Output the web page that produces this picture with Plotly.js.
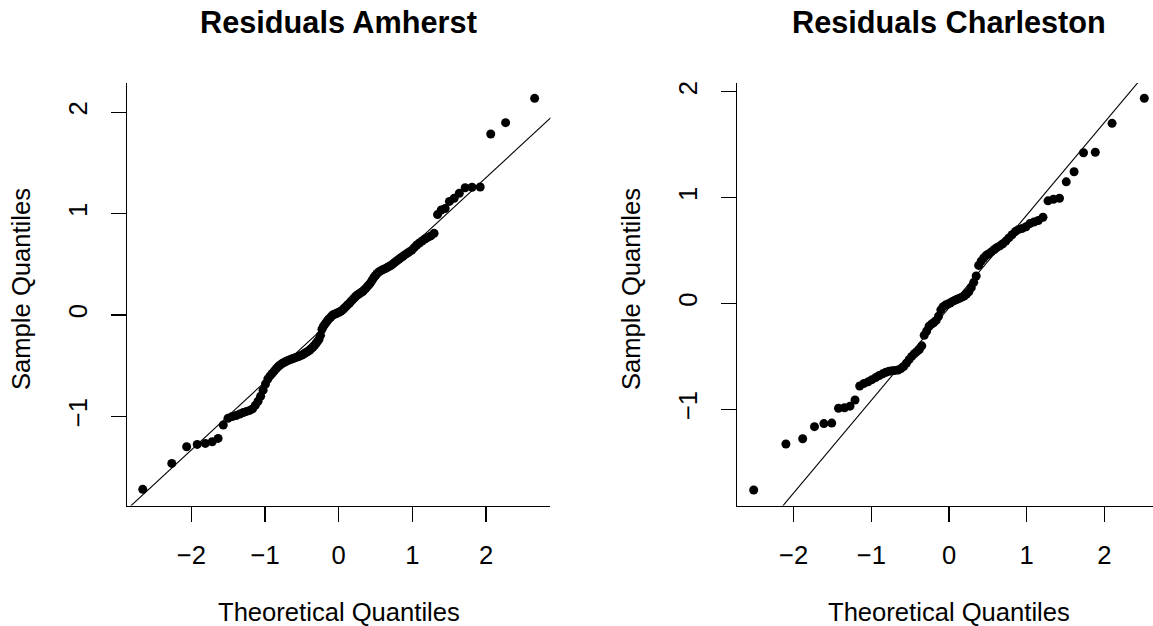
<!DOCTYPE html>
<html><head><meta charset="utf-8">
<script src="https://cdn.plot.ly/plotly-3.0.1.min.js"></script>
<style>html,body{margin:0;padding:0;overflow:hidden;background:#fff}#chart{width:1153px;height:626px}</style>
</head>
<body>
<div id="chart"></div>
<script>
// ---- Data (normal QQ plots of residuals) ----
var amherstTheoretical = [
 -2.660,-2.266,-2.064,-1.921,-1.810,-1.717,-1.637,-1.567,-1.503,-1.445,-1.392,-1.342,-1.295,-1.251,-1.209,-1.170,
 -1.132,-1.095,-1.060,-1.026,-0.994,-0.962,-0.932,-0.902,-0.873,-0.844,-0.817,-0.790,-0.763,-0.737,-0.712,-0.687,
 -0.662,-0.638,-0.614,-0.591,-0.568,-0.545,-0.522,-0.500,-0.478,-0.456,-0.434,-0.413,-0.392,-0.371,-0.350,-0.329,
 -0.308,-0.288,-0.268,-0.247,-0.227,-0.207,-0.187,-0.167,-0.147,-0.128,-0.108,-0.088,-0.069,-0.049,-0.029,-0.010,
 0.010,0.029,0.049,0.069,0.088,0.108,0.128,0.147,0.167,0.187,0.207,0.227,0.247,0.268,0.288,0.308,
 0.329,0.350,0.371,0.392,0.413,0.434,0.456,0.478,0.500,0.522,0.545,0.568,0.591,0.614,0.638,0.662,
 0.687,0.712,0.737,0.763,0.790,0.817,0.844,0.873,0.902,0.932,0.962,0.994,1.026,1.060,1.095,1.132,
 1.170,1.209,1.251,1.295,1.342,1.392,1.445,1.503,1.567,1.637,1.717,1.810,1.921,2.064,2.266,2.660
];
var amherstSample = [
 -1.718,-1.462,-1.298,-1.275,-1.265,-1.249,-1.216,-1.084,-1.018,-1.000,-0.990,-0.975,-0.960,-0.950,-0.940,-0.925,
 -0.890,-0.850,-0.800,-0.740,-0.680,-0.630,-0.600,-0.575,-0.550,-0.525,-0.505,-0.490,-0.475,-0.465,-0.455,-0.447,
 -0.440,-0.433,-0.427,-0.420,-0.415,-0.408,-0.400,-0.395,-0.385,-0.375,-0.365,-0.355,-0.345,-0.330,-0.315,-0.300,
 -0.280,-0.260,-0.240,-0.200,-0.140,-0.110,-0.090,-0.070,-0.050,-0.035,-0.020,-0.005,0.005,0.010,0.017,0.022,
 0.030,0.038,0.048,0.062,0.076,0.090,0.105,0.118,0.135,0.150,0.165,0.180,0.195,0.205,0.215,0.225,
 0.235,0.250,0.265,0.285,0.300,0.320,0.345,0.370,0.390,0.410,0.425,0.435,0.445,0.452,0.460,0.470,
 0.480,0.490,0.505,0.520,0.535,0.550,0.565,0.580,0.595,0.610,0.625,0.640,0.665,0.690,0.710,0.730,
 0.750,0.765,0.780,0.805,0.990,1.035,1.050,1.120,1.150,1.200,1.255,1.260,1.262,1.784,1.896,2.136
];
var charlestonTheoretical = [
 -2.515,-2.100,-1.884,-1.732,-1.611,-1.510,-1.423,-1.345,-1.275,-1.210,-1.150,-1.094,-1.042,-0.992,
 -0.944,-0.898,-0.854,-0.812,-0.771,-0.732,-0.693,-0.656,-0.619,-0.584,-0.549,-0.514,-0.480,-0.447,
 -0.414,-0.382,-0.350,-0.319,-0.287,-0.256,-0.226,-0.195,-0.165,-0.135,-0.105,-0.075,-0.045,-0.015,
 0.015,0.045,0.075,0.105,0.135,0.165,0.195,0.226,0.256,0.287,0.319,0.350,0.382,0.414,
 0.447,0.480,0.514,0.549,0.584,0.619,0.656,0.693,0.732,0.771,0.812,0.854,0.898,0.944,
 0.992,1.042,1.094,1.150,1.210,1.275,1.345,1.423,1.510,1.611,1.732,1.884,2.100,2.515
];
var charlestonSample = [
 -1.763,-1.328,-1.278,-1.164,-1.135,-1.130,-0.990,-0.985,-0.970,-0.912,-0.780,-0.755,-0.740,-0.720,
 -0.700,-0.680,-0.665,-0.650,-0.640,-0.635,-0.632,-0.628,-0.615,-0.595,-0.565,-0.530,-0.500,-0.475,
 -0.455,-0.435,-0.400,-0.300,-0.260,-0.215,-0.195,-0.180,-0.160,-0.120,-0.060,-0.030,-0.015,-0.005,
 0.005,0.020,0.030,0.040,0.050,0.060,0.070,0.090,0.110,0.150,0.200,0.260,0.360,0.400,
 0.430,0.455,0.470,0.490,0.510,0.530,0.545,0.565,0.590,0.620,0.650,0.680,0.700,0.710,
 0.725,0.755,0.770,0.785,0.815,0.970,0.985,0.995,1.150,1.245,1.425,1.430,1.703,1.940
];
// Reference lines (qqline): intercept and slope
var amherstLine = {intercept: 0.013, slope: 0.671};
var charlestonLine = {intercept: -0.040, slope: 0.875};
var xTicks = [-2, -1, 0, 1, 2];
var yTicks = [-1, 0, 1, 2];
var titles = ["Residuals Amherst", "Residuals Charleston"];
var xLabel = "Theoretical Quantiles";
var yLabel = "Sample Quantiles";

// ---- Layout constants ----
var W = 1153, H = 626;
var FONT = "Liberation Sans, Arial, Helvetica, sans-serif";
var range1x = [-2.874, 2.874], range1y = [-1.877, 2.287];
var range2x = [-2.726, 2.627], range2y = [-1.909, 2.084];
var yDom = [1 - 505.5 / H, 1 - 83 / H];

function lineTrace(ln, rx, xa, ya) {
  var xs = [rx[0] - 1, rx[1] + 1];
  return {x: xs, y: xs.map(function (v) { return ln.intercept + ln.slope * v; }),
    xaxis: xa, yaxis: ya, mode: 'lines', line: {color: '#000', width: 1.1},
    hoverinfo: 'skip', showlegend: false, cliponaxis: true};
}
function pointTrace(xs, ys, xa, ya) {
  return {x: xs, y: ys, xaxis: xa, yaxis: ya, mode: 'markers', type: 'scatter',
    marker: {color: '#000', size: 9, line: {width: 0}}, showlegend: false, cliponaxis: false};
}
var data = [
  lineTrace(amherstLine, range1x, 'x', 'y'),
  pointTrace(amherstTheoretical, amherstSample, 'x', 'y'),
  lineTrace(charlestonLine, range2x, 'x2', 'y2'),
  pointTrace(charlestonTheoretical, charlestonSample, 'x2', 'y2')
];

function xAxis(dom, rng, anchor) {
  return {domain: dom, range: rng, anchor: anchor, tickmode: 'array', tickvals: xTicks,
    showline: true, linecolor: '#000', linewidth: 1.1, mirror: false,
    ticks: 'outside', ticklen: 15, tickwidth: 1.1, tickcolor: '#000',
    showgrid: false, zeroline: false, ticklabelstandoff: 12,
    tickfont: {family: FONT, size: 25.6, color: '#000'}};
}
function yAxis(rng, anchor) {
  return {domain: yDom, range: rng, anchor: anchor, tickmode: 'array', tickvals: yTicks,
    showline: true, linecolor: '#000', linewidth: 1.1, mirror: false,
    ticks: 'outside', ticklen: 15, tickwidth: 1.1, tickcolor: '#000', tickangle: -90,
    showgrid: false, zeroline: false, ticklabelstandoff: 14,
    tickfont: {family: FONT, size: 25.6, color: '#000'}};
}
var c1 = 338.7 / W, c2 = 948.7 / W;
function ann(text, x, y, size, bold, angle) {
  return {text: text, x: x, y: y, xref: 'paper', yref: 'paper', xanchor: 'center', yanchor: 'middle',
    showarrow: false, textangle: angle || 0,
    font: {family: FONT, size: size, color: '#000', weight: bold ? 'bold' : 'normal'}};
}
var layout = {
  width: W, height: H, margin: {l: 0, r: 0, t: 0, b: 0}, paper_bgcolor: '#fff', plot_bgcolor: '#fff',
  showlegend: false,
  xaxis: xAxis([127 / W, 550.4 / W], range1x, 'y'),
  yaxis: yAxis(range1y, 'x'),
  xaxis2: xAxis([737.3 / W, 1], range2x, 'y2'),
  yaxis2: yAxis(range2y, 'x2'),
  annotations: [
    ann(titles[0], c1, 1 - 22.5 / H, 30.7, true),
    ann(titles[1], c2, 1 - 22.5 / H, 30.7, true),
    ann(xLabel, c1, 1 - 612 / H, 25.6, false),
    ann(xLabel, c2, 1 - 612 / H, 25.6, false),
    ann(yLabel, 21 / W, 1 - 289 / H, 25.6, false, -90),
    ann(yLabel, 631 / W, 1 - 289 / H, 25.6, false, -90)
  ]
};
Plotly.newPlot('chart', data, layout, {staticPlot: true, displayModeBar: false});
</script>
</body></html>
